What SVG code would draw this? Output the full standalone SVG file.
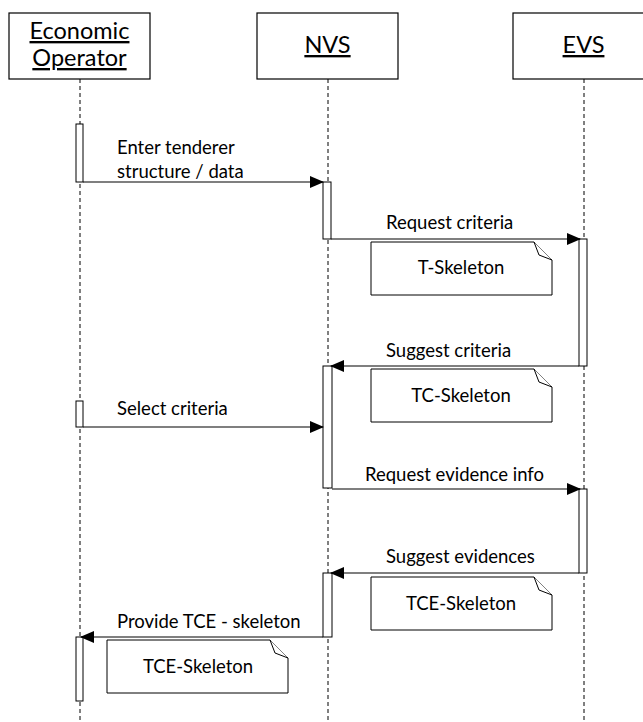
<svg xmlns="http://www.w3.org/2000/svg" width="643" height="722" viewBox="0 0 643 722">
  <style>
    .head { fill: #fff; stroke: #000; stroke-width: 1.2; }
    .htxt { font-family: Lato, "Liberation Sans", sans-serif; font-size: 23.5px; fill: #000; text-anchor: middle; text-decoration: underline; }
    .life { stroke: #000; stroke-width: 1; stroke-dasharray: 4 3; fill: none; }
    .act { fill: #fff; stroke: #000; stroke-width: 1; }
    .msg { stroke: #000; stroke-width: 1.2; fill: none; marker-end: url(#arrow); }
    .mtxt { font-family: Lato, "Liberation Sans", sans-serif; font-size: 18.5px; fill: #000; }
    .note { fill: #fff; stroke: #000; stroke-width: 1; }
    .ntxt { font-family: Lato, "Liberation Sans", sans-serif; font-size: 18.5px; fill: #000; text-anchor: middle; }
  </style>
  <defs>
    <marker id="arrow" markerWidth="14" markerHeight="12" refX="13" refY="6" orient="auto" markerUnits="userSpaceOnUse">
      <path d="M0,0 L14,6 L0,12 Z" fill="#000"/>
    </marker>
    <!-- note shape with a folded top-right corner, 181x53 -->
    <g id="noteShape">
      <path class="note" d="M0,0 H163 L181,18 V53 H0 Z"/>
      <path class="note" d="M163,0 L168,13 L181,18"/>
    </g>
  </defs>

  <rect width="643" height="722" fill="#fff"/>

  <!-- lifelines -->
  <g id="lifelines">
    <line class="life" x1="80" y1="79" x2="80" y2="722"/>
    <line class="life" x1="328" y1="79" x2="328" y2="722"/>
    <line class="life" x1="584" y1="79" x2="584" y2="722"/>
  </g>

  <!-- participants -->
  <g id="economic-operator">
    <rect class="head" x="9" y="13" width="141" height="66"/>
    <text class="htxt" x="79.5" y="39">Economic</text>
    <text class="htxt" x="79.5" y="66">Operator</text>
  </g>
  <g id="nvs">
    <rect class="head" x="257" y="13" width="141" height="66"/>
    <text class="htxt" x="327.5" y="53">NVS</text>
  </g>
  <g id="evs">
    <rect class="head" x="513" y="13" width="141" height="66"/>
    <text class="htxt" x="583.5" y="53">EVS</text>
  </g>

  <!-- activation bars -->
  <g id="activations">
    <rect class="act" x="76" y="124" width="7" height="58"/>
    <rect class="act" x="323" y="182" width="8" height="57"/>
    <rect class="act" x="579" y="239" width="8" height="127"/>
    <rect class="act" x="323" y="366" width="9" height="122"/>
    <rect class="act" x="76" y="401" width="7" height="26"/>
    <rect class="act" x="579" y="489" width="8" height="84"/>
    <rect class="act" x="323" y="573" width="9" height="64"/>
    <rect class="act" x="76" y="637" width="7" height="64"/>
  </g>

  <!-- messages -->
  <g id="connectors">
    <line class="msg" x1="83" y1="182" x2="323" y2="182"/>
    <line class="msg" x1="331" y1="239" x2="580" y2="239"/>
    <line class="msg" x1="579" y1="366" x2="331" y2="366"/>
    <line class="msg" x1="83" y1="427" x2="323" y2="427"/>
    <line class="msg" x1="332" y1="489" x2="580" y2="489"/>
    <line class="msg" x1="579" y1="573" x2="331" y2="573"/>
    <line class="msg" x1="323" y1="637" x2="81" y2="637"/>
  </g>

  <!-- message labels -->
  <g id="labels">
    <text class="mtxt" x="117" y="154">Enter tenderer</text>
    <text class="mtxt" x="117" y="178">structure / data</text>
    <text class="mtxt" x="386" y="229">Request criteria</text>
    <text class="mtxt" x="386" y="357">Suggest criteria</text>
    <text class="mtxt" x="117" y="415">Select criteria</text>
    <text class="mtxt" x="365" y="481">Request evidence info</text>
    <text class="mtxt" x="386" y="563">Suggest evidences</text>
    <text class="mtxt" x="117" y="628">Provide TCE - skeleton</text>
  </g>

  <!-- notes -->
  <g id="note-t-skeleton">
    <use href="#noteShape" x="371" y="242"/>
    <text class="ntxt" x="461" y="274">T-Skeleton</text>
  </g>
  <g id="note-tc-skeleton">
    <use href="#noteShape" x="371" y="369"/>
    <text class="ntxt" x="461" y="402">TC-Skeleton</text>
  </g>
  <g id="note-tce-skeleton-1">
    <use href="#noteShape" x="371" y="577"/>
    <text class="ntxt" x="461" y="610">TCE-Skeleton</text>
  </g>
  <g id="note-tce-skeleton-2">
    <use href="#noteShape" x="107" y="640"/>
    <text class="ntxt" x="198" y="673">TCE-Skeleton</text>
  </g>
</svg>
